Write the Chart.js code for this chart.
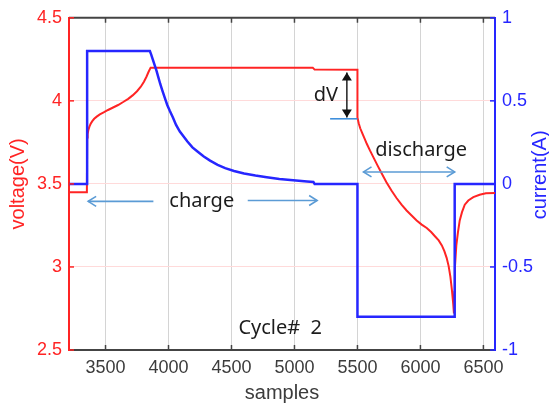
<!DOCTYPE html>
<html>
<head>
<meta charset="utf-8">
<script src="https://cdn.jsdelivr.net/npm/chart.js@4.4.1/dist/chart.umd.min.js"></script>
<style>
  body { margin: 0; background: #fff; }
  canvas { display: block; }
</style>
</head>
<body>
<canvas id="cycleChart" width="549" height="408"></canvas>
<script>
// voltage trace: sample index and volts
const vSamples = [3200, 3352, 3354, 3358, 3364, 3372, 3382, 3395, 3410, 3430, 3455, 3485, 3520, 3560, 3600, 3640,
    3680, 3715, 3750, 3780, 3805, 3825, 3842, 3858, 5145, 5160, 5500, 5500, 5510, 5522, 5538, 5555, 5575, 5600,
    5630, 5660, 5695, 5730, 5770, 5810, 5850, 5890, 5930, 5970, 6010, 6050, 6085, 6115, 6145, 6170, 6190, 6208,
    6224, 6238, 6250, 6260, 6266, 6270, 6274, 6285, 6298, 6312, 6330, 6352, 6380, 6420, 6470, 6520, 6600];
const voltage = [3.45, 3.45, 3.78, 3.80, 3.825, 3.845, 3.862, 3.878, 3.892, 3.905, 3.918, 3.93, 3.945, 3.96, 3.975, 3.993,
    4.012, 4.033, 4.058, 4.085, 4.115, 4.145, 4.175, 4.2, 4.2, 4.188, 4.187, 3.9, 3.865, 3.835, 3.805, 3.775, 3.74, 3.70,
    3.655, 3.61, 3.56, 3.51, 3.46, 3.415, 3.375, 3.34, 3.31, 3.28, 3.255, 3.235, 3.21, 3.185, 3.16, 3.13, 3.095, 3.055,
    3.005, 2.94, 2.86, 2.78, 2.72, 2.85, 3.0, 3.13, 3.21, 3.28, 3.33, 3.375, 3.40, 3.42, 3.435, 3.443, 3.445];

// current trace: sample index and amps
const iSamples = [3200, 3354, 3354, 3852, 3862, 3875, 3890, 3905, 3920, 3935, 3950, 3970, 3990, 4010, 4035, 4060,
    4090, 4120, 4150, 4190, 4230, 4280, 4330, 4390, 4450, 4520, 4600, 4690, 4780, 4880, 4990, 5100, 5150, 5160,
    5500, 5500, 6272, 6272, 6600];
const current = [0, 0, 0.8, 0.8, 0.78, 0.75, 0.715, 0.68, 0.64, 0.60, 0.565, 0.52, 0.475, 0.44, 0.40, 0.355,
    0.315, 0.285, 0.255, 0.22, 0.195, 0.165, 0.14, 0.115, 0.095, 0.078, 0.063, 0.05, 0.04, 0.03, 0.022, 0.015, 0.012, 0,
    0, -0.8, -0.8, 0, 0];

const sampleTicks = [3500, 4000, 4500, 5000, 5500, 6000, 6500];
const voltTicks = [2.5, 3, 3.5, 4, 4.5];
const currTicks = [-1, -0.5, 0, 0.5, 1];

const RED = "#ff2424";
const BLUE = "#2626ff";
const AXIS = "#444444";
const NOTE = "#5b9bd5";

function arrowHead(ctx, x, y, dx, dy, len, half, filled) {
    const px = -dy, py = dx;
    ctx.beginPath();
    ctx.moveTo(x - dx * len + px * half, y - dy * len + py * half);
    ctx.lineTo(x, y);
    ctx.lineTo(x - dx * len - px * half, y - dy * len - py * half);
    if (filled) {
        ctx.closePath();
        ctx.fill();
    } else {
        ctx.stroke();
    }
}

function arrow(ctx, x1, y1, x2, y2, both, filled) {
    const d = Math.hypot(x2 - x1, y2 - y1);
    const dx = (x2 - x1) / d, dy = (y2 - y1) / d;
    ctx.beginPath();
    ctx.moveTo(x1, y1);
    ctx.lineTo(x2, y2);
    ctx.stroke();
    arrowHead(ctx, x2, y2, dx, dy, 8, 5, filled);
    if (both) arrowHead(ctx, x1, y1, -dx, -dy, 8, 5, filled);
}

const frameAndNotes = {
    id: "frameAndNotes",
    afterDatasetsDraw(chart) {
        const ctx = chart.ctx;
        const a = chart.chartArea;
        const xs = chart.scales.x, ys = chart.scales.y, yc = chart.scales.y1;
        const px = v => xs.getPixelForValue(v);
        const py = v => ys.getPixelForValue(v);

        ctx.save();

        // box top edge
        ctx.strokeStyle = AXIS;
        ctx.lineWidth = 2;
        ctx.beginPath();
        ctx.moveTo(a.left, a.top);
        ctx.lineTo(a.right, a.top);
        ctx.stroke();

        // inward tick marks
        ctx.lineWidth = 1.5;
        sampleTicks.forEach(t => {
            const x = px(t);
            ctx.beginPath();
            ctx.moveTo(x, a.top);
            ctx.lineTo(x, a.top + 5);
            ctx.moveTo(x, a.bottom);
            ctx.lineTo(x, a.bottom - 5);
            ctx.stroke();
        });
        ctx.strokeStyle = RED;
        voltTicks.forEach(t => {
            const y = py(t);
            ctx.beginPath();
            ctx.moveTo(a.left, y);
            ctx.lineTo(a.left + 5, y);
            ctx.stroke();
        });
        ctx.strokeStyle = BLUE;
        currTicks.forEach(t => {
            const y = yc.getPixelForValue(t);
            ctx.beginPath();
            ctx.moveTo(a.right - 5, y);
            ctx.lineTo(a.right, y);
            ctx.stroke();
        });

        // charge / discharge arrows
        ctx.strokeStyle = NOTE;
        ctx.fillStyle = NOTE;
        ctx.lineWidth = 1.6;
        arrow(ctx, px(3880), py(3.395), px(3362), py(3.395), false, false);
        arrow(ctx, px(4629), py(3.40), px(5180), py(3.40), false, false);
        arrow(ctx, px(5548), py(3.572), px(6272), py(3.572), true, false);

        // dV marker
        ctx.strokeStyle = "#3f8fdc";
        ctx.lineWidth = 1.6;
        ctx.beginPath();
        ctx.moveTo(px(5283), py(3.892));
        ctx.lineTo(px(5500), py(3.892));
        ctx.stroke();
        ctx.strokeStyle = "#111";
        ctx.fillStyle = "#111";
        ctx.lineWidth = 1.4;
        arrow(ctx, px(5416), py(3.9), px(5416), py(4.17), true, true);

        // text notes
        ctx.fillStyle = "#1c1c1c";
        ctx.font = "20px 'Noto Sans'";
        ctx.textAlign = "center";
        ctx.textBaseline = "alphabetic";
        ctx.fillText("charge", px(4264), py(3.361));
        ctx.fillText("discharge", px(6005), py(3.667));
        ctx.fillText("dV", px(5250), py(4.001));
        ctx.fillText("Cycle#  2", px(4887), py(2.596));

        ctx.restore();
    },
    afterDraw(chart) {
        // right axis title, read bottom to top
        const ctx = chart.ctx;
        const yc = chart.scales.y1;
        ctx.save();
        ctx.translate(540, (yc.top + yc.bottom) / 2 - 9);
        ctx.rotate(-Math.PI / 2);
        ctx.fillStyle = BLUE;
        ctx.font = "20px 'Liberation Sans'";
        ctx.textAlign = "center";
        ctx.textBaseline = "middle";
        ctx.fillText("current(A)", 0, 0);
        ctx.restore();
    }
};

new Chart(document.getElementById("cycleChart"), {
    type: "line",
    data: {
        datasets: [
            {
                label: "current",
                data: iSamples.map((s, k) => ({ x: s, y: current[k] })),
                yAxisID: "y1",
                borderColor: BLUE,
                borderWidth: 2.5,
                pointRadius: 0,
                tension: 0
            },
            {
                label: "voltage",
                data: vSamples.map((s, k) => ({ x: s, y: voltage[k] })),
                yAxisID: "y",
                borderColor: RED,
                borderWidth: 2,
                pointRadius: 0,
                tension: 0
            }
        ]
    },
    options: {
        responsive: false,
        animation: false,
        layout: { padding: { top: 17, left: 0, right: 0, bottom: 0 } },
        plugins: {
            legend: { display: false },
            tooltip: { enabled: false }
        },
        scales: {
            x: {
                type: "linear",
                min: 3210,
                max: 6592,
                afterBuildTicks: s => { s.ticks = sampleTicks.map(v => ({ value: v })); },
                afterFit: s => { s.height = 58; },
                grid: { color: "#d4d4d4", lineWidth: 1, drawTicks: false },
                border: { color: AXIS, width: 2 },
                ticks: {
                    color: "#3c3c3c",
                    padding: 7,
                    maxRotation: 0,
                    font: { family: "'Liberation Sans'", size: 18 },
                    callback: v => String(v)
                },
                title: {
                    display: true,
                    text: "samples",
                    color: "#3c3c3c",
                    font: { family: "'Liberation Sans'", size: 20 },
                    padding: { top: 0, bottom: 3 }
                }
            },
            y: {
                position: "left",
                min: 2.5,
                max: 4.5,
                afterBuildTicks: s => { s.ticks = voltTicks.map(v => ({ value: v })); },
                afterFit: s => { s.width = 69; },
                grid: { color: "#ffdada", lineWidth: 1, drawTicks: false },
                border: { color: RED, width: 2 },
                ticks: {
                    color: RED,
                    padding: 7,
                    font: { family: "'Liberation Sans'", size: 18 },
                    callback: v => String(v)
                },
                title: {
                    display: true,
                    text: "voltage(V)",
                    color: RED,
                    font: { family: "'Liberation Sans'", size: 20 },
                    padding: { top: 6, bottom: 0 }
                }
            },
            y1: {
                position: "right",
                min: -1,
                max: 1,
                afterBuildTicks: s => { s.ticks = currTicks.map(v => ({ value: v })); },
                afterFit: s => { s.width = 54; },
                grid: { display: false, drawTicks: false },
                border: { color: BLUE, width: 2 },
                ticks: {
                    color: BLUE,
                    padding: 7,
                    font: { family: "'Liberation Sans'", size: 18 },
                    callback: v => String(v)
                }
            }
        }
    },
    plugins: [frameAndNotes]
});
</script>
</body>
</html>
